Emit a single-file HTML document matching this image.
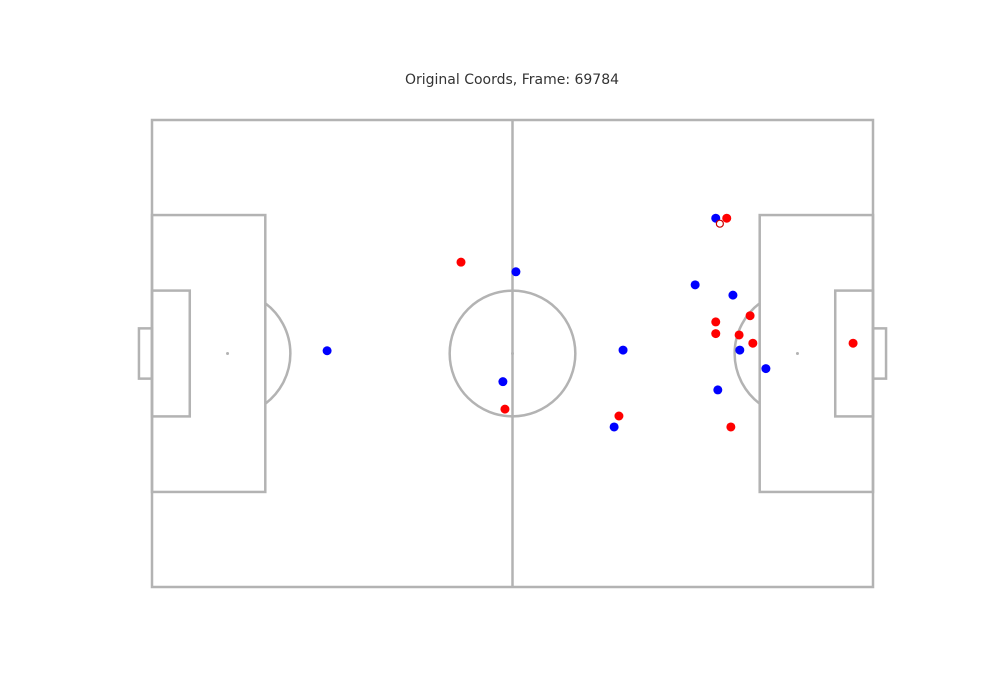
<!DOCTYPE html>
<html><head><meta charset="utf-8"><style>
body{margin:0;background:#fff;width:1000px;height:700px;overflow:hidden}
svg{display:block}
</style></head><body>
<svg id="chart" width="1000" height="700" xmlns="http://www.w3.org/2000/svg">
<text x="512" y="84" text-anchor="middle" font-family="'DejaVu Sans', sans-serif" font-size="14" fill="#333">Original Coords, Frame: 69784</text>
<g id="pitch" fill="none" stroke="#b3b3b3" stroke-width="2.5"></g>
<g id="marks"></g>
</svg>
<script>
const redX=[83.7,87.1,82.1,82.1,85.5,87.5,84.3,102.1,45.0,51.4,68.0];
const redY=[14.3,28.5,29.4,31.1,31.3,32.5,44.7,32.5,20.7,42.1,43.1];
const blueX=[82.1,79.1,84.6,85.6,89.4,82.4,53.0,25.5,68.6,51.1,67.3];
const blueY=[14.3,24.0,25.5,33.5,36.2,39.3,22.1,33.6,33.5,38.1,44.7];
const ballX=[82.7];
const ballY=[15.1];
const L=105,W=68;
const x=m=>152+m*(721/L);
const y=m=>120+m*(467/W);
const NS="http://www.w3.org/2000/svg";
const pitch=document.getElementById('pitch');
const marks=document.getElementById('marks');
function el(t,a,p){const e=document.createElementNS(NS,t);for(const k in a)e.setAttribute(k,a[k]);p.appendChild(e);return e;}
function line(x1,y1,x2,y2,n){const e=el('line',{x1:x(x1),y1:y(y1),x2:x(x2),y2:y(y2)},pitch);

}
function rect(x1,y1,x2,y2,n){const e=el('rect',{x:x(x1),y:y(y1),width:x(x2)-x(x1),height:y(y2)-y(y1)},pitch);

}
rect(0,0,L,W,'pitch-boundary');
line(L/2,0,L/2,W,'halfway-line');
const r=9.15*721/L;
let c=el('circle',{cx:x(L/2),cy:y(W/2),r:r},pitch);


rect(0,W/2-20.16,16.5,W/2+20.16,'left-penalty-box');
rect(L-16.5,W/2-20.16,L,W/2+20.16,'right-penalty-box');
rect(0,W/2-9.16,5.5,W/2+9.16,'left-six-yard-box');
rect(L-5.5,W/2-9.16,L,W/2+9.16,'right-six-yard-box');
rect(-1.9,W/2-3.66,0,W/2+3.66,'left-goal');
rect(L,W/2-3.66,L+1.9,W/2+3.66,'right-goal');
[[11,'left'],[L-11,'right'],[L/2,'center']].forEach(([s,n])=>{
 const d=el('circle',{cx:x(s),cy:y(W/2),r:1.5,fill:'#b3b3b3',stroke:'none'},pitch);
 
 
});
const ang=Math.acos(5.5/9.15);
function arc(cx,sign,n){
 const x1=x(cx)+sign*r*Math.cos(ang), y1=y(W/2)-r*Math.sin(ang), y2=y(W/2)+r*Math.sin(ang);
 const p=el('path',{d:`M${x1},${y1} A${r},${r} 0 0 ${sign>0?1:0} ${x1},${y2}`},pitch);
 
 
}
arc(11,1,'left-penalty-arc');
arc(L-11,-1,'right-penalty-arc');
redX.forEach((v,i)=>{const d=el('circle',{cx:x(v),cy:y(redY[i]),r:4.5,fill:'#ff0000'},marks);
 
 });
blueX.forEach((v,i)=>{const d=el('circle',{cx:x(v),cy:y(blueY[i]),r:4.5,fill:'#0000ff'},marks);
 
 });
ballX.forEach((v,i)=>{const d=el('circle',{cx:x(v),cy:y(ballY[i]),r:3.5,fill:'#fff',stroke:'#cc0000','stroke-width':1.2},marks);
 
 });
</script>
</body></html>
